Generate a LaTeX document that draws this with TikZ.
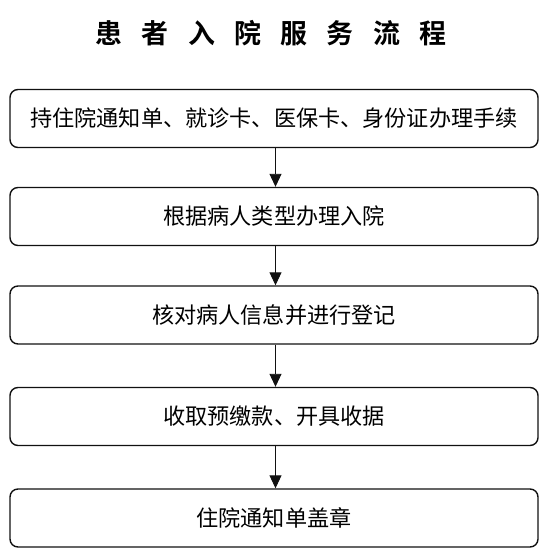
\documentclass[tikz,border=0pt]{standalone}
\usepackage{fontspec}
\usepackage{tikz}
\usetikzlibrary{positioning,arrows.meta}
\newfontfamily\song{Noto Sans CJK SC}[BoldFont={Noto Sans CJK SC Bold}]
\definecolor{ink}{HTML}{111111}
\newcommand\tgap{\hspace{0.58cm}}

\begin{document}
\begin{tikzpicture}[x=0.03cm, y=-0.03cm, >={Triangle[length=0.39cm,width=0.36cm]},
    stepbox/.style={draw=ink, line width=1.2pt, rounded corners=0.24cm, minimum width=15.84cm, minimum height=1.74cm, font=\song\fontsize{18.9pt}{20pt}\selectfont, inner sep=0pt},
    flow/.style={->, ink, line width=0.8pt}]
        \useasboundingbox (0,0) rectangle (545,557);
        \node[font=\song\bfseries\fontsize{23pt}{26pt}\selectfont] (title) at (271,33) {患\tgap 者\tgap 入\tgap 院\tgap 服\tgap 务\tgap 流\tgap 程};
        \node[stepbox] (hold) at (274,118.5) {持住院通知单、就诊卡、医保卡、身份证办理手续};
        \node[stepbox] (type) at (274,216.5) {根据病人类型办理入院};
        \node[stepbox] (check) at (274,315) {核对病人信息并进行登记};
        \node[stepbox] (pay) at (274,416.5) {收取预缴款、开具收据};
        \node[stepbox] (seal) at (274,518) {住院通知单盖章};
        \foreach \a/\b in {hold/type,type/check,check/pay,pay/seal}
          \draw[flow] ([xshift=0.045cm]\a.south) -- ([xshift=0.045cm]\b.north);
      \end{tikzpicture}
\end{document}
